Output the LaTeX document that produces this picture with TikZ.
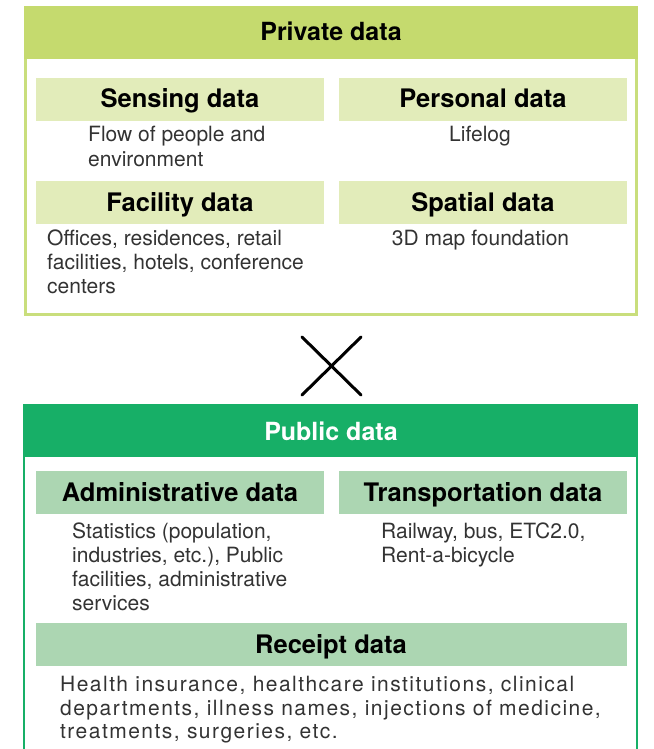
\documentclass[tikz,border=0pt]{standalone}
\usepackage{fontspec}
\setmainfont{TeX Gyre Heros}
\definecolor{privhead}{HTML}{C5DA6E}
\definecolor{privborder}{HTML}{C9DE7C}
\definecolor{privsub}{HTML}{E2ECBA}
\definecolor{pubhead}{HTML}{17AF67}
\definecolor{pubsub}{HTML}{ACD6B2}
\definecolor{bodytext}{HTML}{333333}
\tikzset{
  titletext/.style={font=\fontsize{25}{29}\selectfont\bfseries, anchor=base, inner sep=0pt},
  headtext/.style={font=\fontsize{25.5}{29}\selectfont\bfseries, anchor=base, inner sep=0pt, text=black},
  bodyline/.style={font=\fontsize{21}{24}\selectfont, anchor=base west, inner sep=0pt, text=bodytext},
  bodymid/.style={font=\fontsize{21}{24}\selectfont, anchor=base, inner sep=0pt, text=bodytext},
  wideline/.style={font=\fontsize{21}{24}\selectfont\addfontfeature{LetterSpace=7}, anchor=base west, inner sep=0pt, text=bodytext},
}
\begin{document}
\begin{tikzpicture}[x=1pt,y=-1pt]
\useasboundingbox (0,0) rectangle (653,749);
% ---------- Private data ----------
\fill[privhead] (24,6) rectangle (638,59);
\draw[privborder, line width=3pt] (25.5,59) -- (25.5,314.5) -- (636.5,314.5) -- (636.5,59);
\node[titletext] (privtitle) at (331,41) {Private data};
\fill[privsub] (36,78) rectangle (324,121);
\fill[privsub] (339,78) rectangle (627,121);
\fill[privsub] (36,181) rectangle (324,224);
\fill[privsub] (339,181) rectangle (627,224);
\node[headtext] (sens) at (180,108) {Sensing data};
\node[headtext] (pers) at (483,108) {Personal data};
\node[headtext] (faci) at (180,211) {Facility data};
\node[headtext] (spat) at (483,211) {Spatial data};
\node[bodyline] (s1) at (88,142) {Flow of people and};
\node[bodyline] (s2) at (88,166) {environment};
\node[bodymid] (p1) at (480,142) {Lifelog};
\node[bodyline] (f1) at (47,245) {Offices, residences, retail};
\node[bodyline] (f2) at (47,269) {facilities, hotels, conference};
\node[bodyline] (f3) at (47,293) {centers};
\node[bodymid] (sp1) at (480.5,245) {3D map foundation};
% ---------- cross ----------
\coordinate (xa) at (302,337);
\coordinate (xb) at (361,395);
\coordinate (xc) at (361,337);
\coordinate (xd) at (302,395);
\draw[line width=3pt, line cap=round] (xa) -- (xb);
\draw[line width=3pt, line cap=round] (xc) -- (xd);
% ---------- Public data ----------
\fill[pubhead] (23,404) rectangle (638,457);
\draw[pubhead, line width=2pt] (24,457) -- (24,750);
\draw[pubhead, line width=2pt] (636.5,457) -- (636.5,750);
\node[titletext, text=white] (pubtitle) at (331,440) {Public data};
\fill[pubsub] (36,471) rectangle (324,514);
\fill[pubsub] (339,471) rectangle (627,514);
\fill[pubsub] (36,623) rectangle (627,666);
\node[headtext] (admi) at (180,501) {Administrative data};
\node[headtext] (tran) at (483,501) {Transportation data};
\node[headtext] (rece) at (331,653) {Receipt data};
\node[bodyline] (a1) at (72,538) {Statistics (population,};
\node[bodyline] (a2) at (72,562) {industries, etc.), Public};
\node[bodyline] (a3) at (72,586) {facilities, administrative};
\node[bodyline] (a4) at (72,610) {services};
\node[bodyline] (t1) at (381,538) {Railway, bus, ETC2.0,};
\node[bodyline] (t2) at (381,562) {Rent-a-bicycle};
\node[wideline] (r1) at (60,691) {Health insurance, healthcare institutions, clinical};
\node[wideline] (r2) at (60,715) {departments, illness names, injections of medicine,};
\node[wideline] (r3) at (60,738) {treatments, surgeries, etc.};
\end{tikzpicture}
\end{document}
